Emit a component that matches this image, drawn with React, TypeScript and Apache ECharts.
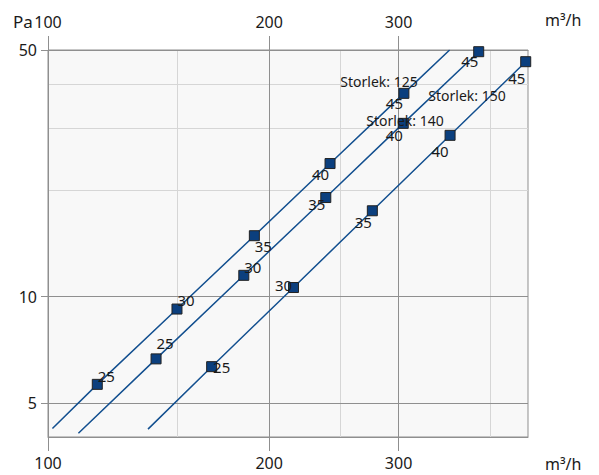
import React, { useEffect, useRef } from 'react';
import * as echarts from 'echarts';

// ---- data ----
const markerLabels = ['25', '30', '35', '40', '45'];

const flow125 = [116.7, 149.8, 190.9, 242, 305];
const pa125 = [5.64, 9.22, 14.88, 23.83, 37.68];
const flow140 = [140.3, 184.7, 238.8, 304.4, 385.6];
const pa140 = [6.66, 11.49, 19.09, 30.98, 49.45];
const flow150 = [167, 215.8, 276.3, 352.5, 446.8];
const pa150 = [6.33, 10.61, 17.51, 28.65, 46.33];

// curve end points beyond the markers
const curveStartFlow = [101.4, 110, 136.8];
const curveStartPa = [4.23, 4.1, 4.21];
const curve125EndFlow = 352;
const curve125EndPa = 50;

const sizeNames = ['Storlek: 125', 'Storlek: 140', 'Storlek: 150'];

const xMajorTicks = [100, 200, 300];
const xMinorGrid = [150, 250, 400];
const yMajorTicks = [5, 10, 50];
const yMinorGrid = [20, 30, 40];
const xRange = [100, 450];
const yRange = [4, 50.0001];

// ---- styling / label placement ----
const FONT = 'Noto Sans';
const TEXT = '#1a1a1a';
const DARK = '#8f8f8f';
const LIGHT = '#d6d6d6';
const LINE = '#124f8f';
const MARK = '#0b3f7e';

const offsets125 = [[9, -8], [9, -9], [9, 10], [-9.5, 10.5], [-9.5, 10]];
const offsets140 = [[9, -16], [9, -8.5], [-9, 6], [-9, 12], [-9, 9.5]];
const offsets150 = [[10, 0], [-10, -2.5], [-9, 11], [-10, 16], [-9, 16]];

function pairs(xs: number[], ys: number[]) {
  return xs.map((x, i) => [x, ys[i]]);
}

function markerSeries(xs: number[], ys: number[], offs: number[][]) {
  return {
    type: 'scatter',
    xAxisIndex: 0,
    yAxisIndex: 0,
    symbol: 'rect',
    symbolSize: 10,
    z: 5,
    itemStyle: { color: MARK, borderColor: '#222', borderWidth: 1, opacity: 1 },
    data: xs.map((x, i) => ({
      value: [x, ys[i]],
      label: { offset: offs[i] },
    })),
    label: {
      show: true,
      position: 'inside',
      formatter: (p: any) => markerLabels[p.dataIndex],
      color: TEXT,
      opacity: 1,
      fontFamily: FONT,
      fontSize: 15,
      textBorderWidth: 0,
      textBorderColor: 'transparent',
      align: 'center',
      verticalAlign: 'middle',
    },
  };
}

function lineSeries(data: number[][]) {
  return {
    type: 'line',
    xAxisIndex: 0,
    yAxisIndex: 0,
    showSymbol: false,
    symbol: 'none',
    clip: true,
    z: 3,
    lineStyle: { color: LINE, width: 1.5, opacity: 1 },
    data,
  };
}

export default function App() {
  const ref = useRef<HTMLDivElement>(null);
  useEffect(() => {
    if (!ref.current) return;
    const chart = echarts.init(ref.current, null, { renderer: 'svg' });

    const c125 = [[curveStartFlow[0], curveStartPa[0]], ...pairs(flow125, pa125), [curve125EndFlow, curve125EndPa]];
    const c140 = [[curveStartFlow[1], curveStartPa[1]], ...pairs(flow140, pa140)];
    const c150 = [[curveStartFlow[2], curveStartPa[2]], ...pairs(flow150, pa150)];

    const labelStyle = { color: TEXT, fontFamily: FONT, fontSize: 16 };

    chart.setOption({
      animation: false,
      grid: {
        left: 48,
        top: 50,
        width: 480,
        height: 387,
        containLabel: false,
        outerBoundsMode: 'none',
        show: true,
        backgroundColor: '#f8f8f8',
        borderColor: DARK,
        borderWidth: 1,
      },
      xAxis: [
        {
          type: 'log',
          position: 'bottom',
          min: xRange[0],
          max: xRange[1],
          z: 2,
          axisLine: { show: true, lineStyle: { color: DARK, width: 1 } },
          axisTick: { show: true, length: 14, customValues: xMajorTicks, lineStyle: { color: DARK } },
          axisLabel: { ...labelStyle, margin: 18, customValues: xMajorTicks, formatter: (v: number) => String(Math.round(v)) },
          splitLine: { show: true, lineStyle: { color: DARK, width: 1 } },
          minorTick: { show: false },
          minorSplitLine: { show: false },
        },
        {
          type: 'log',
          position: 'top',
          min: xRange[0],
          max: xRange[1],
          z: 2,
          axisLine: { show: true, lineStyle: { color: DARK, width: 1 } },
          axisTick: { show: true, length: 14, customValues: xMajorTicks, lineStyle: { color: DARK } },
          axisLabel: { ...labelStyle, margin: 20, customValues: xMajorTicks, formatter: (v: number) => String(Math.round(v)) },
          splitLine: { show: false },
        },
        {
          type: 'log',
          position: 'bottom',
          min: xRange[0],
          max: xRange[1],
          z: 1,
          axisLine: { show: false },
          axisTick: { show: false, customValues: xMinorGrid },
          axisLabel: { show: false, customValues: xMinorGrid },
          splitLine: { show: true, lineStyle: { color: LIGHT, width: 1 } },
        },
      ],
      yAxis: [
        {
          type: 'log',
          position: 'left',
          min: yRange[0],
          max: yRange[1],
          z: 2,
          axisLine: { show: true, lineStyle: { color: DARK, width: 1 } },
          axisTick: { show: true, length: 7, customValues: yMajorTicks, lineStyle: { color: DARK } },
          axisLabel: { ...labelStyle, margin: 11, customValues: yMajorTicks, formatter: (v: number) => String(Math.round(v)) },
          splitLine: { show: true, lineStyle: { color: DARK, width: 1 } },
        },
        {
          type: 'log',
          position: 'right',
          min: yRange[0],
          max: yRange[1],
          z: 1,
          axisLine: { show: false },
          axisTick: { show: false, customValues: yMinorGrid },
          axisLabel: { show: false, customValues: yMinorGrid },
          splitLine: { show: true, lineStyle: { color: LIGHT, width: 1 } },
        },
      ],
      graphic: [
        { type: 'text', x: 13, y: 21, z: 10, style: { text: 'Pa', fontFamily: FONT, fontSize: 17, fill: TEXT, align: 'left', verticalAlign: 'middle' } },
        { type: 'text', x: 545, y: 20, z: 10, style: { text: 'm³/h', fontFamily: FONT, fontSize: 16, fill: TEXT, align: 'left', verticalAlign: 'middle' } },
        { type: 'text', x: 545, y: 464, z: 10, style: { text: 'm³/h', fontFamily: FONT, fontSize: 16, fill: TEXT, align: 'left', verticalAlign: 'middle' } },
        { type: 'text', x: 379, y: 81, z: 10, style: { text: sizeNames[0], fontFamily: FONT, fontSize: 14, fill: TEXT, align: 'center', verticalAlign: 'middle' } },
        { type: 'text', x: 405, y: 120, z: 10, style: { text: sizeNames[1], fontFamily: FONT, fontSize: 14, fill: TEXT, align: 'center', verticalAlign: 'middle' } },
        { type: 'text', x: 467, y: 95, z: 10, style: { text: sizeNames[2], fontFamily: FONT, fontSize: 14, fill: TEXT, align: 'center', verticalAlign: 'middle' } },
      ],
      series: [
        lineSeries(c125),
        lineSeries(c140),
        lineSeries(c150),
        markerSeries(flow125, pa125, offsets125),
        markerSeries(flow140, pa140, offsets140),
        markerSeries(flow150, pa150, offsets150),
      ],
    });

    return () => chart.dispose();
  }, []);

  return (
    <div
      ref={ref}
      style={{ position: 'fixed', left: 0, top: 0, width: 599, height: 475, background: '#ffffff' }}
    />
  );
}
